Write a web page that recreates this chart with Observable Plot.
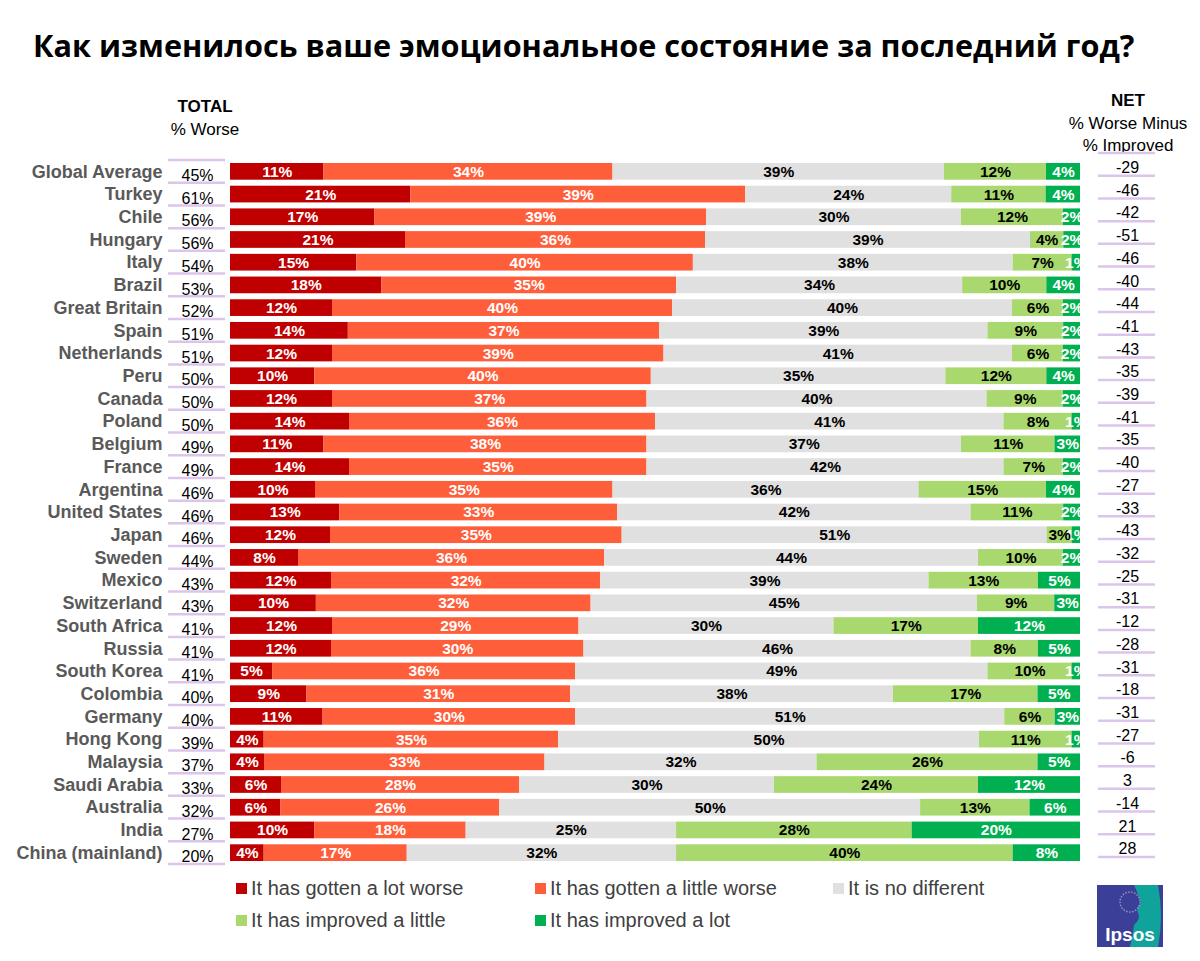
<!DOCTYPE html>
<html><head><meta charset="utf-8">
<script src="https://cdn.jsdelivr.net/npm/d3@7"></script>
<script src="https://cdn.jsdelivr.net/npm/@observablehq/plot@0.6"></script>
<style>
body{margin:0;background:#fff;font-family:"Liberation Sans",Arial,sans-serif;}
#wrap{position:relative;width:1200px;height:961px;overflow:hidden;background:#fff;}
.abs{position:absolute;white-space:nowrap;}
.c{transform:translateX(-50%);text-align:center;}
.hdr{font-size:17px;color:#000;line-height:20px;}
.leg{font-size:20px;color:#404040;display:flex;align-items:center;}
.sw{display:inline-block;width:11px;height:11px;margin-right:4px;}
</style></head><body><div id="wrap">
<div class="abs" id="title" style="left:33px;top:24px;font-family:'Open Sans';font-weight:700;font-size:30px;color:#000;">Как изменилось ваше эмоциональное состояние за последний год?</div>
<div class="abs c hdr" style="left:205px;top:97px;font-weight:bold;">TOTAL</div>
<div class="abs c hdr" style="left:205px;top:120px;">% Worse</div>
<div class="abs c hdr" style="left:1128px;top:91px;font-weight:bold;">NET</div>
<div class="abs c hdr" style="left:1128px;top:114px;">% Worse Minus</div>
<div class="abs c hdr" style="left:1128px;top:136px;">% Improved</div>
<div id="chart" class="abs" style="left:0;top:0;"></div>
<div id="legend"></div>
<svg class="abs" style="left:1097px;top:885px" width="66" height="62" viewBox="0 0 66 62">
<rect x="0" y="0" width="66" height="62" fill="#3c3f97"/>
<path d="M37 0 H61 Q67 31 61 62 H33 Q36 48 37 40 Q44 34 41 28 Q39 22 44 18 Q40 6 37 0 Z" fill="#0fa39c"/>
<circle cx="33" cy="17" r="10" fill="none" stroke="#8e93c9" stroke-width="1.5" stroke-dasharray="1.5 1.5"/>
<text x="33" y="56" text-anchor="middle" fill="#fff" font-family="Liberation Sans, Arial" font-weight="bold" font-size="19">Ipsos</text>
</svg>
</div>
<script>
const countries = ["Global Average","Turkey","Chile","Hungary","Italy","Brazil","Great Britain","Spain","Netherlands","Peru","Canada","Poland","Belgium","France","Argentina","United States","Japan","Sweden","Mexico","Switzerland","South Africa","Russia","South Korea","Colombia","Germany","Hong Kong","Malaysia","Saudi Arabia","Australia","India","China (mainland)"];
const totalWorse = [45,61,56,56,54,53,52,51,51,50,50,50,49,49,46,46,46,44,43,43,41,41,41,40,40,39,37,33,32,27,20];
const lotWorse = [11,21,17,21,15,18,12,14,12,10,12,14,11,14,10,13,12,8,12,10,12,12,5,9,11,4,4,6,6,10,4];
const littleWorse = [34,39,39,36,40,35,40,37,39,40,37,36,38,35,35,33,35,36,32,32,29,30,36,31,30,35,33,28,26,18,17];
const noDifferent = [39,24,30,39,38,34,40,39,41,35,40,41,37,42,36,42,51,44,39,45,30,46,49,38,51,50,32,30,50,25,32];
const improvedLittle = [12,11,12,4,7,10,6,9,6,12,9,8,11,7,15,11,3,10,13,9,17,8,10,17,6,11,26,24,13,28,40];
const improvedLot = [4,4,2,2,1,4,2,2,2,4,2,1,3,2,4,2,1,2,5,3,12,5,1,5,3,1,5,12,6,20,8];
const netValues = [-29,-46,-42,-51,-46,-40,-44,-41,-43,-35,-39,-41,-35,-40,-27,-33,-43,-32,-25,-31,-12,-28,-31,-18,-31,-27,-6,3,-14,21,28];
const categories = ["It has gotten a lot worse","It has gotten a little worse","It is no different","It has improved a little","It has improved a lot"];
const colors = ["#C00000","#FF5E3A","#E0E0E0","#A9D96E","#00B050"];

const series = [lotWorse, littleWorse, noDifferent, improvedLittle, improvedLot];
const long = countries.flatMap((c,i)=>categories.map((cat,j)=>({country:c, cat, value:series[j][i]})));
const rows = countries.map((c,i)=>({country:c, total:totalWorse[i], net:netValues[i]}));
const whiteCats = new Set([categories[0],categories[1],categories[4]]);
const st = {x:"value", y:"country", z:"cat", offset:"normalize", order:categories};

const plot = Plot.plot({
  width:1200, height:880, marginTop:160, marginBottom:16, marginLeft:230, marginRight:120,
  x:{axis:null},
  y:{domain:countries, axis:null, padding:0, round:false},
  color:{domain:categories, range:colors},
  style:{fontFamily:"Liberation Sans, Arial, sans-serif", background:"transparent"},
  marks:[
    Plot.barX(long, Plot.stackX({...st, fill:"cat", insetTop:3, insetBottom:3})),
    Plot.text(long, Plot.stackX({...st, text:d=>whiteCats.has(d.cat)?d.value+"%":"", fill:"white", fontWeight:"bold", fontSize:15.5, clip:true})),
    Plot.text(long, Plot.stackX({...st, text:d=>!whiteCats.has(d.cat)?d.value+"%":"", fill:"black", fontWeight:"bold", fontSize:15.5, clip:true})),
    Plot.text(rows, {y:"country", text:"country", frameAnchor:"left", dx:-68, textAnchor:"end", fontWeight:"bold", fontSize:18, fill:"#595959"}),
    Plot.text(rows, {y:"country", text:d=>d.total+"%", frameAnchor:"left", dx:-33, dy:4, textAnchor:"middle", fontSize:16, fill:"#000"}),
    Plot.text(rows, {y:"country", text:d=>String(d.net), frameAnchor:"right", dx:47, dy:-4, textAnchor:"middle", fontSize:16, fill:"#000"})
  ]
});
document.getElementById("chart").appendChild(plot);

// separator underlines in the side columns, positioned by the plot's y scale
const ys = plot.scale("y");
const svg = d3.select(plot);
const bw = ys.bandwidth;
const g = svg.insert("g", ":first-child").attr("stroke", "#DCC5EA").attr("stroke-width", 2.5);
const top0 = ys.apply(countries[0]);
g.append("line").attr("x1",168).attr("x2",225).attr("y1",top0).attr("y2",top0);
g.append("line").attr("x1",1098).attr("x2",1155).attr("y1",top0-7).attr("y2",top0-7);
countries.forEach(c=>{
  const yb = ys.apply(c) + bw;
  g.append("line").attr("x1",168).attr("x2",225).attr("y1",yb).attr("y2",yb);
  g.append("line").attr("x1",1098).attr("x2",1155).attr("y1",yb-7).attr("y2",yb-7);
});

// legend
const legPos = [[236,877],[535,877],[833,877],[236,909],[535,909]];
const leg = document.getElementById("legend");
categories.forEach((cat,i)=>{
  const d = document.createElement("div");
  d.className = "abs leg";
  d.style.left = legPos[i][0]+"px"; d.style.top = legPos[i][1]+"px";
  d.innerHTML = `<span class="sw" style="background:${colors[i]}"></span><span>${cat}</span>`;
  leg.appendChild(d);
});

// fit title width
const t = document.getElementById("title");
const w = t.getBoundingClientRect().width;
t.style.fontSize = (30*1102/w).toFixed(2)+"px";
</script>
</body></html>
